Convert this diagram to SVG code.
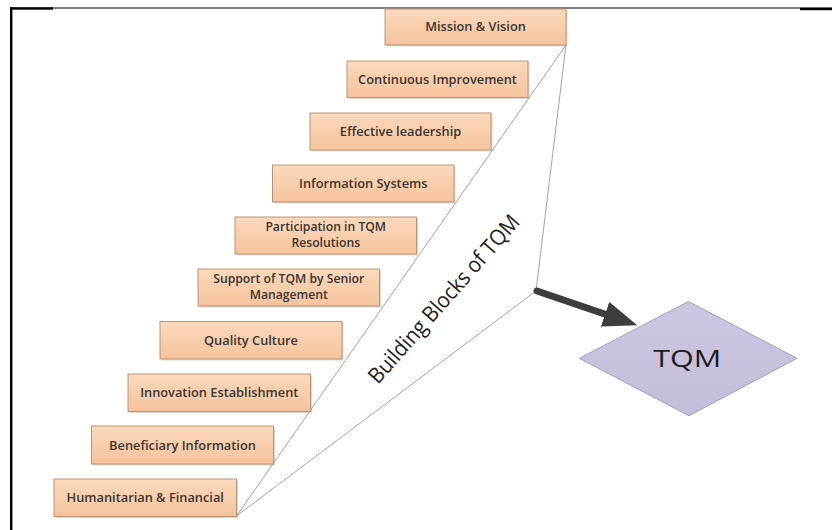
<svg xmlns="http://www.w3.org/2000/svg" width="832" height="530" viewBox="0 0 832 530">
  <style>
    .box { fill: url(#peach); stroke: #b99576; stroke-width: 1; }
    .shadow { fill: #9a8a80; opacity: 0.35; }
    .lbl { font-family: "Open Sans", "Liberation Sans", sans-serif; font-size: 12.8px; font-weight: 600; fill: #3a3632; text-anchor: middle; }
    .lbl2 { font-size: 12.2px; }
    .thin { fill: none; stroke: #8c8c8c; stroke-width: 0.8; }
    .frame { stroke: #000; fill: none; }
  </style>
  <defs>
    <linearGradient id="peach" x1="0" y1="0" x2="0" y2="1">
      <stop offset="0" stop-color="#fbd9bc"/>
      <stop offset="1" stop-color="#f5c39c"/>
    </linearGradient>
    <linearGradient id="lav" x1="0" y1="0" x2="0" y2="1">
      <stop offset="0" stop-color="#cdc7e2"/>
      <stop offset="1" stop-color="#c3bcda"/>
    </linearGradient>
    <marker id="head" markerUnits="userSpaceOnUse" markerWidth="34" markerHeight="26" viewBox="0 0 34 26" refX="1" refY="13" orient="auto">
      <path d="M0,0 L34,13 L0,26 Z" fill="#3d3d3d"/>
    </marker>
  </defs>

  <rect width="832" height="530" fill="#ffffff"/>

  <g id="frame">
    <line class="frame" x1="10" y1="8" x2="832" y2="8" stroke-width="1.2"/>
    <rect x="10" y="7.3" width="43" height="2.4" fill="#000"/>
    <rect x="800" y="7.8" width="32" height="2.4" fill="#000"/>
    <rect x="10" y="7.3" width="2.4" height="523" fill="#000"/>
  </g>

  <g id="connectors">
    <path class="thin" d="M566,45 L236.5,516"/>
    <path class="thin" d="M566,45 L536,291 L236.5,516"/>
    <path d="M537,291 L606,314.5" stroke="#3d3d3d" stroke-width="7" stroke-linecap="round" fill="none" marker-end="url(#head)"/>
  </g>

  <g id="n-mission">
    <rect class="shadow" x="386.5" y="10.5" width="181" height="36"/>
    <rect class="box" x="385" y="9" width="181" height="36"/>
    <text class="lbl" x="475.5" y="31.2">Mission &amp; Vision</text>
  </g>
  <g id="n-continuous">
    <rect class="shadow" x="348.5" y="62.5" width="181" height="36.5"/>
    <rect class="box" x="347" y="61" width="181" height="36.5"/>
    <text class="lbl" x="437.5" y="83.7">Continuous Improvement</text>
  </g>
  <g id="n-leadership">
    <rect class="shadow" x="311.5" y="114.5" width="181" height="37"/>
    <rect class="box" x="310" y="113" width="181" height="37"/>
    <text class="lbl" x="400.5" y="135.8">Effective leadership</text>
  </g>
  <g id="n-infosys">
    <rect class="shadow" x="274" y="166.5" width="181.5" height="37"/>
    <rect class="box" x="272.5" y="165" width="181.5" height="37"/>
    <text class="lbl" x="363.25" y="187.8">Information Systems</text>
  </g>
  <g id="n-participation">
    <rect class="shadow" x="236.5" y="218.5" width="181.5" height="37"/>
    <rect class="box" x="235" y="217" width="181.5" height="37"/>
    <text class="lbl lbl2" x="325.75" y="230.6">Participation in TQM<tspan x="325.75" dy="16.6">Resolutions</tspan></text>
  </g>
  <g id="n-support">
    <rect class="shadow" x="199.5" y="270.5" width="181.5" height="37"/>
    <rect class="box" x="198" y="269" width="181.5" height="37"/>
    <text class="lbl lbl2" x="288.75" y="282.6">Support of TQM by Senior<tspan x="288.75" dy="16.6">Management</tspan></text>
  </g>
  <g id="n-quality">
    <rect class="shadow" x="161.5" y="323" width="182" height="37.5"/>
    <rect class="box" x="160" y="321.5" width="182" height="37.5"/>
    <text class="lbl" x="251" y="344.8">Quality Culture</text>
  </g>
  <g id="n-innovation">
    <rect class="shadow" x="129.5" y="375.5" width="182.5" height="37.5"/>
    <rect class="box" x="128" y="374" width="182.5" height="37.5"/>
    <text class="lbl" x="219.25" y="397.3">Innovation Establishment</text>
  </g>
  <g id="n-beneficiary">
    <rect class="shadow" x="93" y="427.5" width="182" height="38"/>
    <rect class="box" x="91.5" y="426" width="182" height="38"/>
    <text class="lbl" x="182.5" y="449.8">Beneficiary Information</text>
  </g>
  <g id="n-humanitarian">
    <rect class="shadow" x="55.5" y="480.5" width="182.5" height="37.5"/>
    <rect class="box" x="54" y="479" width="182.5" height="37.5"/>
    <text class="lbl" x="145.25" y="502.3">Humanitarian &amp; Financial</text>
  </g>

  <g id="n-building-label">
    <text x="449.5" y="304" transform="rotate(-48.6 449.5 304)" text-anchor="middle" font-family="Open Sans, Liberation Sans, sans-serif" font-size="22" fill="#1c1c1c" textLength="216" lengthAdjust="spacingAndGlyphs">Building Blocks of TQM</text>
  </g>

  <g id="n-tqm">
    <polygon points="688.5,301.5 797,358.3 689,415.8 579.3,358.3" fill="url(#lav)" stroke="#a39dbd" stroke-width="1"/>
    <text x="687.2" y="366.7" text-anchor="middle" font-family="Open Sans, Liberation Sans, sans-serif" font-size="23" fill="#1e1e1e" textLength="68" lengthAdjust="spacingAndGlyphs">TQM</text>
  </g>
</svg>
